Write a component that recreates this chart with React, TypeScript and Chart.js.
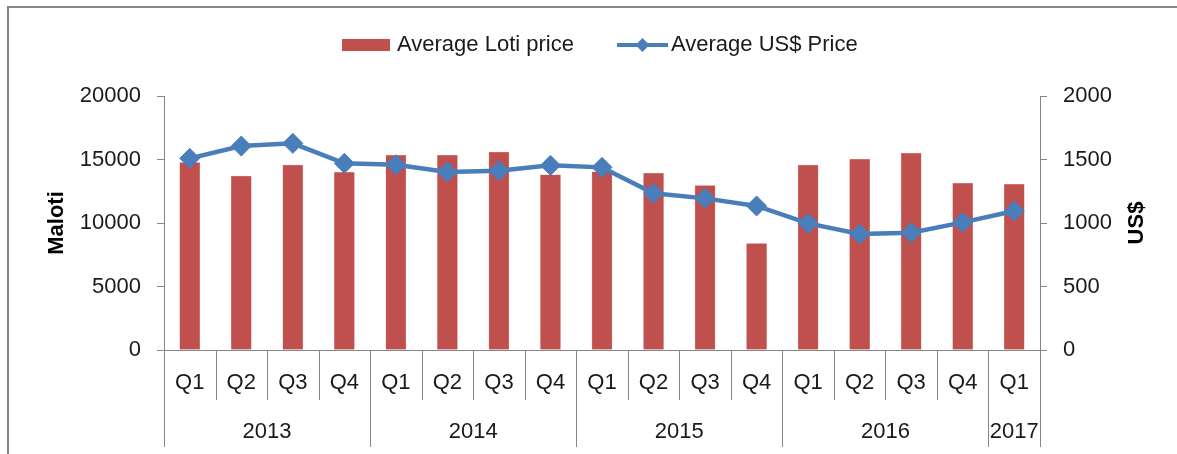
import React, { useEffect, useRef } from "react";
import { Chart, registerables } from "chart.js";

Chart.register(...registerables);

const quarters = ["Q1", "Q2", "Q3", "Q4", "Q1", "Q2", "Q3", "Q4", "Q1", "Q2", "Q3", "Q4", "Q1", "Q2", "Q3", "Q4", "Q1"];
const years = ["2013", "2014", "2015", "2016", "2017"];
const quartersPerYear = [4, 4, 4, 4, 1];
const lotiPrice = [14750, 13700, 14570, 13990, 15330, 15330, 15590, 13800, 14030, 13910, 12940, 8370, 14570, 15010, 15480, 13120, 13040];
const usdPrice = [1509, 1606, 1627, 1470, 1459, 1402, 1412, 1454, 1438, 1234, 1194, 1134, 997, 913, 924, 1005, 1094];
const lotiTicks = [0, 5000, 10000, 15000, 20000];
const usdTicks = [0, 500, 1000, 1500, 2000];

const BAR = "#C0504D";
const LINE = "#4A7EBB";
const AXIS = "#868686";
const FONT = "'Liberation Sans', Arial, sans-serif";

const drawPlugin = {
  id: "customDecor",
  afterDraw(chart: any) {
    const ctx = chart.ctx as CanvasRenderingContext2D;
    const area = chart.chartArea;
    const xs = chart.scales.x;
    ctx.save();

    // outer frame
    ctx.strokeStyle = AXIS;
    ctx.lineWidth = 2;
    ctx.beginPath();
    ctx.moveTo(8, 600);
    ctx.lineTo(8, 7);
    ctx.lineTo(1300, 7);
    ctx.stroke();

    // x axis line
    ctx.lineWidth = 1;
    ctx.strokeStyle = AXIS;
    ctx.beginPath();
    ctx.moveTo(area.left - 7, Math.round(area.bottom) + 0.5);
    ctx.lineTo(area.right + 7, Math.round(area.bottom) + 0.5);
    ctx.stroke();

    // category boundaries
    const n = quarters.length;
    const bounds: number[] = [];
    for (let i = 0; i <= n; i++) {
      if (i === 0) bounds.push(area.left);
      else if (i === n) bounds.push(area.right);
      else bounds.push((xs.getPixelForValue(i - 1) + xs.getPixelForValue(i)) / 2);
    }
    const yearStarts = new Set<number>();
    let acc = 0;
    yearStarts.add(0);
    quartersPerYear.forEach((q) => {
      acc += q;
      yearStarts.add(acc);
    });
    bounds.forEach((bx, i) => {
      const x = Math.round(bx) + 0.5;
      ctx.beginPath();
      ctx.moveTo(x, area.bottom);
      ctx.lineTo(x, yearStarts.has(i) ? 447 : 400);
      ctx.stroke();
    });

    // quarter labels
    ctx.fillStyle = "#1a1a1a";
    ctx.font = `22px ${FONT}`;
    ctx.textAlign = "center";
    ctx.textBaseline = "middle";
    quarters.forEach((q, i) => {
      ctx.fillText(q, xs.getPixelForValue(i), 383);
    });
    // year labels
    let start = 0;
    years.forEach((y, k) => {
      const end = start + quartersPerYear[k];
      const cx = (bounds[start] + bounds[end]) / 2;
      ctx.fillText(y, cx, 432);
      start = end;
    });

    // axis titles
    ctx.font = `bold 22px ${FONT}`;
    ctx.fillStyle = "#000";
    ctx.save();
    ctx.translate(57, (area.top + area.bottom) / 2);
    ctx.rotate(-Math.PI / 2);
    ctx.fillText("Maloti", 0, 0);
    ctx.restore();
    ctx.save();
    ctx.translate(1137, (area.top + area.bottom) / 2);
    ctx.rotate(-Math.PI / 2);
    ctx.fillText("US$", 0, 0);
    ctx.restore();

    // legend
    ctx.font = `22px ${FONT}`;
    ctx.textAlign = "left";
    ctx.fillStyle = BAR;
    ctx.fillRect(342, 39, 48, 12);
    ctx.fillStyle = "#1a1a1a";
    ctx.fillText(chart.data.datasets[0].label, 397, 45);
    ctx.strokeStyle = LINE;
    ctx.lineWidth = 4;
    ctx.beginPath();
    ctx.moveTo(617, 45);
    ctx.lineTo(668, 45);
    ctx.stroke();
    ctx.fillStyle = LINE;
    ctx.beginPath();
    ctx.moveTo(642.5, 38);
    ctx.lineTo(649.5, 45);
    ctx.lineTo(642.5, 52);
    ctx.lineTo(635.5, 45);
    ctx.closePath();
    ctx.fill();
    ctx.fillStyle = "#1a1a1a";
    ctx.fillText(chart.data.datasets[1].label, 671, 45);

    ctx.restore();
  },
};

export default function App() {
  const ref = useRef<HTMLCanvasElement | null>(null);
  useEffect(() => {
    if (!ref.current) return;
    const tickFont = { family: FONT, size: 22 };
    const plain = (v: any) => String(v);
    const chart = new Chart(ref.current, {
      type: "bar",
      data: {
        labels: quarters,
        datasets: [
          {
            type: "bar",
            label: "Average Loti price",
            data: lotiPrice,
            backgroundColor: BAR,
            borderColor: "#D99694",
            borderWidth: 0.5,
            barThickness: 20,
            yAxisID: "y",
            order: 2,
          },
          {
            type: "line",
            label: "Average US$ Price",
            data: usdPrice,
            borderColor: LINE,
            backgroundColor: LINE,
            borderWidth: 4.5,
            pointStyle: "rectRot",
            pointRadius: 10,
            pointBorderWidth: 1,
            pointBackgroundColor: LINE,
            pointBorderColor: LINE,
            tension: 0,
            yAxisID: "y1",
            order: 1,
          } as any,
        ],
      },
      options: {
        responsive: false,
        animation: false,
        layout: { padding: { top: 96, bottom: 104, left: 0, right: 0 } },
        plugins: { legend: { display: false }, tooltip: { enabled: false }, title: { display: false } },
        scales: {
          x: { display: false, offset: true },
          y: {
            position: "left",
            min: 0,
            max: 20000,
            afterBuildTicks: (s: any) => {
              s.ticks = lotiTicks.map((v) => ({ value: v }));
            },
            afterFit: (s: any) => {
              s.width = 164;
            },
            ticks: { font: tickFont, color: "#1a1a1a", padding: 16, callback: plain },
            grid: { drawOnChartArea: false, tickLength: 7, color: AXIS },
            border: { color: AXIS, width: 1 },
          },
          y1: {
            position: "right",
            min: 0,
            max: 2000,
            afterBuildTicks: (s: any) => {
              s.ticks = usdTicks.map((v) => ({ value: v }));
            },
            afterFit: (s: any) => {
              s.width = 1177 - 1040;
            },
            ticks: { font: tickFont, color: "#1a1a1a", padding: 16, callback: plain },
            grid: { drawOnChartArea: false, tickLength: 7, color: AXIS },
            border: { color: AXIS, width: 1 },
          },
        },
      },
      plugins: [drawPlugin],
    });
    return () => chart.destroy();
  }, []);
  return (
    <div style={{ position: "absolute", left: 0, top: 0, width: 1177, height: 454, background: "#fff" }}>
      <canvas ref={ref} width={1177} height={454} style={{ width: 1177, height: 454, display: "block" }} />
    </div>
  );
}
